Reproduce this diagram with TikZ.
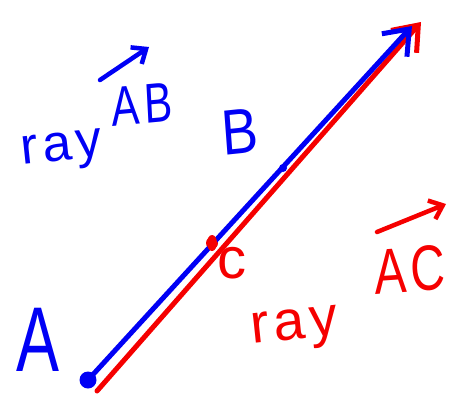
\documentclass[tikz,border=0pt]{standalone}
\usepackage{fontspec}
\setmainfont{Liberation Sans}
\usetikzlibrary{arrows.meta, positioning}
\definecolor{penblue}{RGB}{0, 0, 245}
\definecolor{penred}{RGB}{245, 0, 0}

\begin{document}
\begin{tikzpicture}[x=1pt, y=-1pt,
    ray/.style={line width=5pt, line cap=round,
                -{Straight Barb[length=22pt, width=34pt, line width=5pt]}},
    hat/.style={line width=4.5pt, line cap=round,
                -{Straight Barb[length=12pt, width=20pt, line width=4.5pt]}},
    pt/.style={circle, inner sep=0pt},
    lbl/.style={inner sep=0pt, font=\fontsize{#1}{#1}\selectfont},
    lbl/.default=60pt
]
\useasboundingbox (0,0) rectangle (452,400);

% Points
\node[pt, fill=penblue, minimum size=17pt] (A) at (88,380) {};
\node[pt, fill=penred, minimum size=12pt] (C) at (212,243) {};
\node[pt, fill=penblue, minimum size=8pt] (B) at (283,168) {};
\coordinate (As) at (97,391);
\coordinate (Bend) at (412,26);
\coordinate (Cend) at (421,22);

% Rays
\draw[ray, penred]  (As) -- (Cend);
\draw[ray, penblue] (A.center) -- (Bend);
\fill[penred] (C) ellipse (5pt and 8pt);

% Point labels
\node[lbl=92pt, text=penblue, xscale=0.7] (Alab) at (38,340) {A};
\node[lbl=64pt, text=penblue, xscale=0.85, rotate=5] (Blab) at (240,132) {B};
\node[lbl=58pt, text=penred] (Clab) at (232,263) {c};

% Ray AB
\node[lbl=52pt, text=penblue, rotate=6] (rayAB) at (62,152) {r\kern5pt a\kern5pt y};
\node[lbl=56pt, text=penblue, xscale=0.75, rotate=4] (AB) at (142,104) {A\kern6pt B};
\coordinate (ABs) at (100,80);
\coordinate (ABe) at (149,47);
\draw[hat, penblue] (ABs) -- (ABe);

% Ray AC
\node[lbl=56pt, text=penred, rotate=6] (rayAC) at (295,330) {r\kern5pt a\kern5pt y};
\node[lbl=64pt, text=penred, xscale=0.75, rotate=3] (AC) at (410,270) {A\kern6pt C};
\coordinate (ACs) at (377,232);
\coordinate (ACe) at (446,204);
\draw[hat, penred] (ACs) -- (ACe);

\end{tikzpicture}
\end{document}
